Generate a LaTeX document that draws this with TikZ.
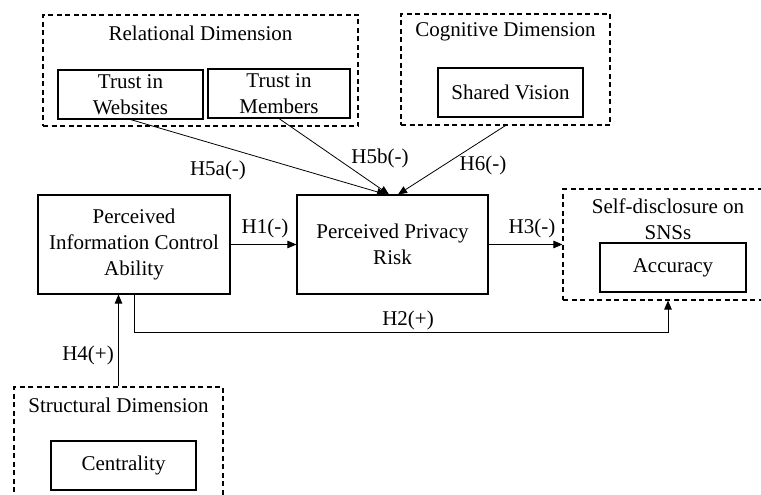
\documentclass[tikz,border=0pt]{standalone}
\usepackage{fontspec}
\setmainfont{Liberation Serif}
\usetikzlibrary{arrows.meta,calc}
\begin{document}
\begin{tikzpicture}[x=1pt,y=-1pt,
  every node/.style={font=\fontsize{21}{26}\selectfont, inner sep=0pt},
  solidbox/.style={draw, line width=1.1pt, align=center},
  dashbox/.style={draw, line width=1.1pt, dash pattern=on 5pt off 3.5pt},
  lbl/.style={align=center},
  arr/.style={line width=0.8pt, -{Triangle[length=9pt,width=7.5pt]}},
]
\useasboundingbox (0,0) rectangle (761,495);
% dashed groups
\node[dashbox, minimum width=315pt, minimum height=111pt] (rel) at (200.5,70.5) {};
\node[lbl] (relt) at (200.5,33) {Relational Dimension};
\node[dashbox, minimum width=209pt, minimum height=111pt] (cog) at (505.5,69.5) {};
\node[lbl] (cogt) at (505.5,32) {Cognitive Dimension};
\node[dashbox, minimum width=210pt, minimum height=111pt] (self) at (668,244.5) {};
\node[lbl] (selft) at (668,219) {Self-disclosure on\\SNSs};
\node[dashbox, minimum width=209pt, minimum height=111pt] (struct) at (118.5,442.5) {};
\node[lbl] (structt) at (118.5,405) {Structural Dimension};
% solid boxes
\node[solidbox, minimum width=145pt, minimum height=49pt] (web) at (130.5,94.5) {Trust in\\Websites};
\node[solidbox, minimum width=142pt, minimum height=49pt] (mem) at (279,93.5) {Trust in\\Members};
\node[solidbox, minimum width=145pt, minimum height=49pt] (sv) at (510.5,92.5) {Shared Vision};
\node[solidbox, minimum width=192pt, minimum height=99pt] (pica) at (134,244.5) {Perceived\\Information Control\\Ability};
\node[solidbox, minimum width=191pt, minimum height=99pt] (ppr) at (392.5,244.5) {Perceived Privacy\\Risk};
\node[solidbox, minimum width=146pt, minimum height=49pt] (acc) at (673,267.5) {Accuracy};
\node[solidbox, minimum width=145pt, minimum height=49pt] (cent) at (123.5,465.5) {Centrality};
% connectors
\draw[arr] (web.south) -- ($(ppr.north)+(-6.5,0)$);
\draw[arr] (mem.south) -- ($(ppr.north)+(-3.5,0)$);
\draw[arr] (cog.south) -- ($(ppr.north)+(5.5,0)$);
\draw[arr] (pica.east) -- (ppr.west);
\draw[arr] (ppr.east) -- (self.west);
\draw[arr] (pica.south) -- ++(0,38) -| (self.south);
\draw[arr] (struct.north) -- (struct.north |- pica.south);
% labels
\node[lbl] (h1) at (265,228) {H1(-)};
\node[lbl] (h3) at (532,228) {H3(-)};
\node[lbl] (h2) at (408,320) {H2(+)};
\node[lbl] (h4) at (88,355) {H4(+)};
\node[lbl] (h5a) at (218,170) {H5a(-)};
\node[lbl] (h5b) at (380,158) {H5b(-)};
\node[lbl] (h6) at (483,165) {H6(-)};
\end{tikzpicture}
\end{document}
